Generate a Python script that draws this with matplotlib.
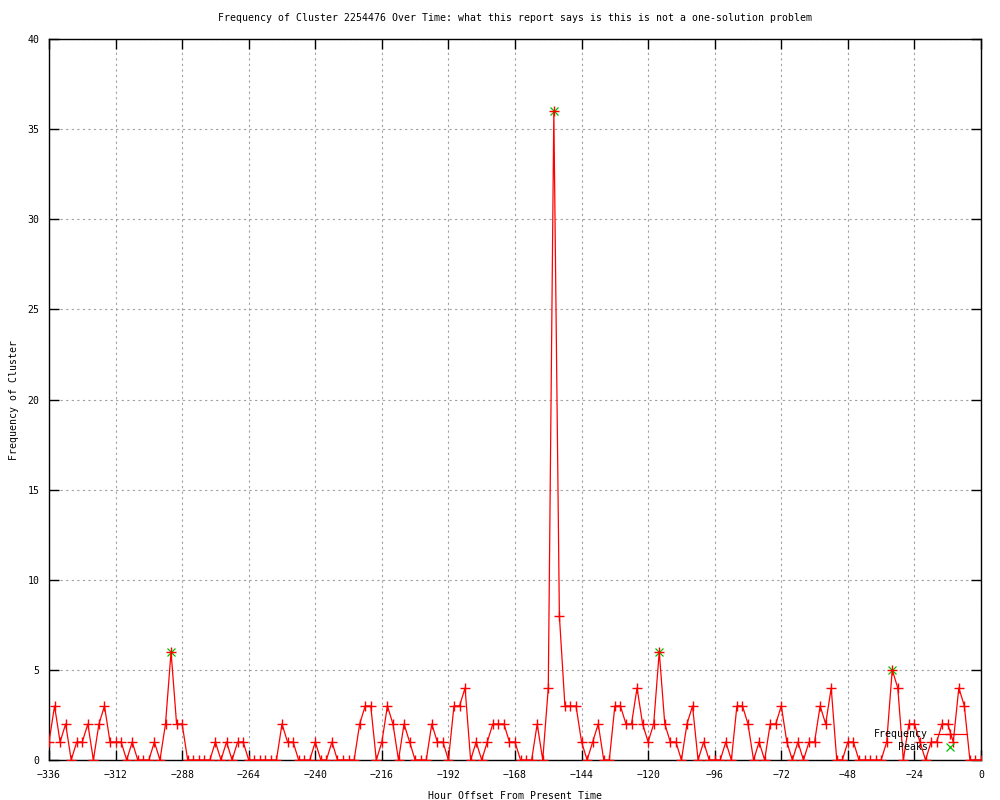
import numpy as np
import matplotlib
matplotlib.use("Agg")
import matplotlib.pyplot as plt

# hour offsets, one sample every 2 hours
hours = np.arange(-336, 1, 2)
freq = [1, 3, 1, 2, 0, 1, 1, 2, 0, 2, 3, 1, 1, 1, 0, 1, 0, 0, 0, 1,
        0, 2, 6, 2, 2, 0, 0, 0, 0, 0, 1, 0, 1, 0, 1, 1, 0, 0, 0, 0,
        0, 0, 2, 1, 1, 0, 0, 0, 1, 0, 0, 1, 0, 0, 0, 0, 2, 3, 3, 0,
        1, 3, 2, 0, 2, 1, 0, 0, 0, 2, 1, 1, 0, 3, 3, 4, 0, 1, 0, 1,
        2, 2, 2, 1, 1, 0, 0, 0, 2, 0, 4, 36, 8, 3, 3, 3, 1, 0, 1, 2,
        0, 0, 3, 3, 2, 2, 4, 2, 1, 2, 6, 2, 1, 1, 0, 2, 3, 0, 1, 0,
        0, 0, 1, 0, 3, 3, 2, 0, 1, 0, 2, 2, 3, 1, 0, 1, 0, 1, 1, 3,
        2, 4, 0, 0, 1, 1, 0, 0, 0, 0, 0, 1, 5, 4, 0, 2, 2, 1, 0, 1,
        1, 2, 2, 1, 4, 3, 0, 0, 0]

peak_hours = [-292, -154, -116, -32]
peak_vals = [6, 36, 6, 5]

title = "Frequency of Cluster 2254476 Over Time: what this report says is this is not a one-solution problem"

plt.rcParams['font.family'] = ['DejaVu Sans Mono']
plt.rcParams['font.size'] = 7.1

fig = plt.figure(figsize=(10, 8), dpi=100)
ax = fig.add_axes([0.049, 0.05, 0.932, 0.901])

ax.plot(peak_hours, peak_vals, linestyle='none', marker='x', color='#00c000',
        markersize=6, markeredgewidth=0.9, label='Peaks', zorder=2)
ax.plot(hours, freq, color='red', linewidth=0.9, marker='+', markersize=7,
        markeredgewidth=1.0, label='Frequency', zorder=3)

ax.set_xlim(-336, 0)
ax.set_ylim(0, 40)
ax.set_xticks(np.arange(-336, 1, 24))
ax.set_yticks(np.arange(0, 41, 5))
ax.tick_params(direction='in', top=True, right=True, length=7, width=1, pad=7)
ax.grid(True, linestyle=(0, (2, 3)), color='#a0a0a0', linewidth=0.8)
for s in ax.spines.values():
    s.set_linewidth(1)

ax.set_title(title, fontsize=7.1, pad=13)
ax.set_xlabel("Hour Offset From Present Time", labelpad=8)
ax.set_ylabel("Frequency of Cluster", labelpad=6)

h, l = ax.get_legend_handles_labels()
ax.legend(h[::-1], l[::-1], loc='lower right', bbox_to_anchor=(0.99, 0.004),
          markerfirst=False, frameon=False, handlelength=3.3,
          labelspacing=0.3, borderpad=0, handletextpad=0.6)

fig.savefig("out.png")
